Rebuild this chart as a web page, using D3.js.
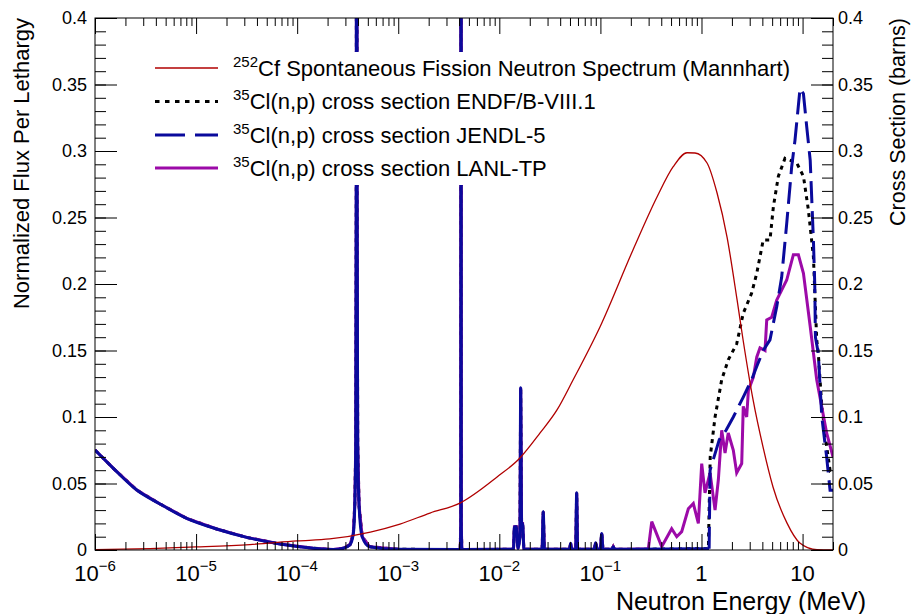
<!DOCTYPE html>
<html>
<head>
<meta charset="utf-8">
<script src="https://cdn.jsdelivr.net/npm/d3@7"></script>
<style>
  body { margin: 0; background: #fff; }
  svg { font-family: "Liberation Sans", Arial, sans-serif; }
</style>
</head>
<body>
<div id="chart"></div>
<script>
// 252Cf spectrum (Mannhart), flux per lethargy
const cfEnergy = [1e-6, 3.5e-6, 1e-5, 3.4e-5, 1e-4, 2.1e-4, 5.3e-4, 1.04e-3, 2.06e-3, 4.08e-3, 9.5e-3, 0.016, 0.0253, 0.0372, 0.0536, 0.099, 0.21, 0.363, 0.523, 0.719, 0.863, 1.135, 1.426, 1.79, 2.25, 2.58, 3.24, 4.06, 5.1, 7.0, 9.4, 13.9, 20];
const cfFlux = [0.0002, 0.0011, 0.0023, 0.0041, 0.0068, 0.0083, 0.0135, 0.0195, 0.0278, 0.0353, 0.0549, 0.0692, 0.088, 0.1053, 0.1278, 0.1677, 0.2256, 0.2654, 0.288, 0.2987, 0.2985, 0.291, 0.2684, 0.2353, 0.188, 0.1579, 0.1128, 0.0775, 0.0474, 0.0204, 0.0053, 0.0002, 0.0];

// резонансная область - все три библиотеки совпадают
const lowEnergy = [1e-6, 1.52e-6, 2.59e-6, 4.4e-6, 8.07e-6, 1.6e-5, 3.17e-5, 6.77e-5, 1.44e-4, 2.28e-4, 2.86e-4, 3.33e-4, 3.59e-4, 3.72e-4, 3.80e-4, 3.85e-4, 3.88e-4, 3.91e-4, 3.97e-4, 4.10e-4, 4.4e-4, 5.2e-4, 1.0e-3,
  4.10e-3, 4.16e-3, 4.18e-3, 4.20e-3, 4.26e-3,
  0.0138, 0.0141, 0.0147, 0.0153, 0.0160, 0.01626, 0.0166, 0.0170, 0.0175,
  0.0265, 0.0272, 0.0279, 0.0495, 0.0508, 0.0520, 0.0570, 0.0582, 0.0595,
  0.087, 0.0897, 0.093, 0.100, 0.103, 0.106, 0.130, 0.134, 0.138];
const lowXs = [0.0752, 0.0614, 0.0451, 0.0346, 0.0238, 0.0158, 0.0095, 0.0045, 0.0013, 0.0003, 0.0013, 0.004, 0.012, 0.035, 0.08, 0.3, 1.5, 0.3, 0.08, 0.033, 0.01, 0.0025, 0.0005,
  0.0004, 0.02, 1.2, 0.02, 0.0004,
  0.0005, 0.0175, 0.0175, 0.001, 0.01, 0.122, 0.02, 0.02, 0.0005,
  0.0005, 0.029, 0.0005, 0.0005, 0.005, 0.0005, 0.0005, 0.043, 0.0005,
  0.0005, 0.0055, 0.0005, 0.0005, 0.0125, 0.0005, 0.0005, 0.0025, 0.0005];

const endfEnergy = [0.2, 1.17, 1.19, 1.22, 1.362, 1.585, 1.84, 2.23, 2.59, 3.13, 3.52, 4.08, 4.76, 5.14, 5.76, 6.70, 8.75, 10.2, 11.4, 12.8, 13.8, 14.3, 15.5, 17.3, 18.7, 20];
const endfXs = [0.0005, 0.001, 0.03, 0.07, 0.1, 0.128, 0.143, 0.155, 0.178, 0.193, 0.208, 0.233, 0.233, 0.258, 0.281, 0.2945, 0.291, 0.281, 0.256, 0.2205, 0.158, 0.148, 0.108, 0.078, 0.06, 0.062];

const jendlEnergy = [0.2, 1.19, 1.216, 1.50, 1.75, 2.065, 2.59, 3.13, 3.52, 4.08, 4.76, 5.55, 6.21, 6.97, 7.80, 8.41, 9.44, 10.2, 11.0, 11.9, 12.8, 13.2, 13.4, 14.3, 15.5, 17.3, 18.7, 20];
const jendlXs = [0.0005, 0.001, 0.06, 0.083, 0.09, 0.1, 0.115, 0.128, 0.138, 0.15, 0.158, 0.183, 0.205, 0.2456, 0.288, 0.308, 0.347, 0.343, 0.318, 0.293, 0.233, 0.2, 0.16, 0.148, 0.1, 0.07, 0.045, 0.045];

const lanlEnergy = [0.2, 0.298, 0.322, 0.404, 0.507, 0.569, 0.637, 0.741, 0.830, 0.931, 1.005, 1.084, 1.216, 1.362, 1.469, 1.585, 1.710, 1.84, 2.065, 2.23, 2.50, 2.59, 2.80, 2.91, 3.26, 3.52, 3.79, 4.25, 4.42, 4.95, 5.55, 6.97, 8.11, 9.09, 10.2, 11.9, 13.8, 17.3, 20];
const lanlXs = [0.0005, 0.001, 0.0213, 0.0025, 0.016, 0.01, 0.0138, 0.031, 0.035, 0.02, 0.065, 0.043, 0.058, 0.03, 0.053, 0.09, 0.073, 0.088, 0.075, 0.058, 0.065, 0.108, 0.10, 0.12, 0.13, 0.145, 0.152, 0.15, 0.173, 0.175, 0.188, 0.203, 0.222, 0.222, 0.208, 0.168, 0.128, 0.088, 0.07];

const xMajorTicks = [1e-6, 1e-5, 1e-4, 1e-3, 1e-2, 1e-1, 1, 10];
const xTickBase = ["10", "10", "10", "10", "10", "10", "1", "10"];
const xTickExp = ["\u22126", "\u22125", "\u22124", "\u22123", "\u22122", "\u22121", "", ""];
const yTicks = [0, 0.05, 0.1, 0.15, 0.2, 0.25, 0.3, 0.35, 0.4];
const yTickLabels = ["0", "0.05", "0.1", "0.15", "0.2", "0.25", "0.3", "0.35", "0.4"];

const legendLabels = [
  { sup: "252", text: "Cf Spontaneous Fission Neutron Spectrum (Mannhart)" },
  { sup: "35", text: "Cl(n,p) cross section ENDF/B-VIII.1" },
  { sup: "35", text: "Cl(n,p) cross section JENDL-5" },
  { sup: "35", text: "Cl(n,p) cross section LANL-TP" },
];

// Размеры
const W = 914, H = 614;
const padLeft = 95, padRight = 833, padTop = 18, padBottom = 550;

const svg = d3.select("#chart").append("svg")
  .attr("width", W).attr("height", H)
  .attr("viewBox", `0 0 ${W} ${H}`);

const x = d3.scaleLog().domain([1e-6, 20]).range([padLeft, padRight]);
const yFlux = d3.scaleLinear().domain([0, 0.4]).range([padBottom, padTop]);
const yXs = d3.scaleLinear().domain([0, 0.4]).range([padBottom, padTop]);

svg.append("defs").append("clipPath").attr("id", "plot-clip")
  .append("rect").attr("x", padLeft).attr("y", padTop)
  .attr("width", padRight - padLeft).attr("height", padBottom - padTop);

const toPoints = (es, vs) => es.map((e, i) => ({ e: e, v: vs[i] }));

const cfPts = toPoints(cfEnergy, cfFlux);
const lowPts = toPoints(lowEnergy, lowXs);
const endfPts = lowPts.concat(toPoints(endfEnergy, endfXs));
const jendlPts = lowPts.concat(toPoints(jendlEnergy, jendlXs));
const lanlPts = lowPts.concat(toPoints(lanlEnergy, lanlXs));

const fluxLine = d3.line().x((d) => x(d.e)).y((d) => yFlux(d.v)).curve(d3.curveMonotoneX);
const xsSmooth = d3.line().x((d) => x(d.e)).y((d) => yXs(d.v)).curve(d3.curveMonotoneX);
const xsLine = d3.line().x((d) => x(d.e)).y((d) => yXs(d.v));

const plot = svg.append("g").attr("clip-path", "url(#plot-clip)");

plot.append("path").datum(endfPts)
  .attr("fill", "none").attr("stroke", "#000").attr("stroke-width", 3)
  .attr("stroke-dasharray", "4,4.5")
  .attr("d", xsLine);

plot.append("path").datum(lanlPts)
  .attr("fill", "none").attr("stroke", "#9c0aa8").attr("stroke-width", 3)
  .attr("d", xsLine);

// JENDL: в плотной области ROOT рисует штрихи сплошняком
plot.append("path").datum(jendlPts.filter((d) => d.e <= 1.19))
  .attr("fill", "none").attr("stroke", "#0a0a9c").attr("stroke-width", 3)
  .attr("d", xsSmooth);
plot.append("path").datum(jendlPts.filter((d) => d.e >= 1.19))
  .attr("fill", "none").attr("stroke", "#0a0a9c").attr("stroke-width", 3)
  .attr("stroke-dasharray", "22,8")
  .attr("d", xsLine);

// Легенда (белая подложка закрывает резонансы)
const legend = svg.append("g");
legend.append("rect").attr("x", 148).attr("y", 52)
  .attr("width", 620).attr("height", 133).attr("fill", "#fff");

// Спектр Cf рисуется поверх подложки легенды
svg.append("g").attr("clip-path", "url(#plot-clip)")
  .append("path").datum(cfPts)
  .attr("fill", "none").attr("stroke", "#b00000").attr("stroke-width", 1.3)
  .attr("d", fluxLine);

// Рамка
svg.append("rect").attr("x", padLeft).attr("y", padTop)
  .attr("width", padRight - padLeft).attr("height", padBottom - padTop)
  .attr("fill", "none").attr("stroke", "#000").attr("stroke-width", 1);

// Оси
const xMinor = x.ticks().filter((t) => xMajorTicks.indexOf(t) < 0);
const yMinor = d3.range(0, 41).map((i) => i / 100);

function styleAxis(g) {
  g.select(".domain").remove();
  g.selectAll(".tick line").attr("stroke", "#000");
  g.selectAll("text").remove();
}

svg.append("g").attr("transform", `translate(0,${padBottom})`)
  .call(d3.axisBottom(x).tickValues(xMajorTicks).tickSize(-16)).call(styleAxis);
svg.append("g").attr("transform", `translate(0,${padBottom})`)
  .call(d3.axisBottom(x).tickValues(xMinor).tickSize(-8)).call(styleAxis);
svg.append("g").attr("transform", `translate(0,${padTop})`)
  .call(d3.axisTop(x).tickValues(xMajorTicks).tickSize(-16)).call(styleAxis);
svg.append("g").attr("transform", `translate(0,${padTop})`)
  .call(d3.axisTop(x).tickValues(xMinor).tickSize(-8)).call(styleAxis);

svg.append("g").attr("transform", `translate(${padLeft},0)`)
  .call(d3.axisLeft(yFlux).tickValues(yTicks).tickSize(-22)).call(styleAxis);
svg.append("g").attr("transform", `translate(${padLeft},0)`)
  .call(d3.axisLeft(yFlux).tickValues(yMinor).tickSize(-11)).call(styleAxis);
svg.append("g").attr("transform", `translate(${padRight},0)`)
  .call(d3.axisRight(yXs).tickValues(yTicks).tickSize(-22)).call(styleAxis);
svg.append("g").attr("transform", `translate(${padRight},0)`)
  .call(d3.axisRight(yXs).tickValues(yMinor).tickSize(-11)).call(styleAxis);

// Подписи делений
const xLabels = svg.append("g").attr("font-size", 22).attr("fill", "#000");
xMajorTicks.forEach((t, i) => {
  const txt = xLabels.append("text")
    .attr("x", x(t)).attr("y", 581)
    .attr("text-anchor", "middle");
  txt.append("tspan").text(xTickBase[i]);
  if (xTickExp[i]) {
    txt.append("tspan").attr("dy", -10).attr("font-size", 15).text(xTickExp[i]);
  }
});

svg.append("g").attr("font-size", 18)
  .selectAll("text").data(yTicks).join("text")
  .attr("x", padLeft - 8).attr("y", (d) => yFlux(d)).attr("dy", "0.35em")
  .attr("text-anchor", "end")
  .text((d, i) => yTickLabels[i]);

svg.append("g").attr("font-size", 18)
  .selectAll("text").data(yTicks).join("text")
  .attr("x", padRight + 5).attr("y", (d) => yXs(d)).attr("dy", "0.35em")
  .attr("text-anchor", "start")
  .text((d, i) => yTickLabels[i]);

// Названия осей
svg.append("text").attr("x", 866).attr("y", 610)
  .attr("text-anchor", "end").attr("font-size", 25)
  .text("Neutron Energy (MeV)");

svg.append("text")
  .attr("transform", `translate(29,${padTop}) rotate(-90)`)
  .attr("text-anchor", "end").attr("font-size", 22)
  .text("Normalized Flux Per Lethargy");

svg.append("text")
  .attr("transform", `translate(905,${padTop}) rotate(-90)`)
  .attr("text-anchor", "end").attr("font-size", 21.5)
  .text("Cross Section (barns)");

// Подписи легенды
const legendStyles = [
  { color: "#b00000", width: 1.3, dash: null },
  { color: "#000", width: 3, dash: "4.5,5.5" },
  { color: "#0a0a9c", width: 3, dash: "30,10" },
  { color: "#9c0aa8", width: 3, dash: null },
];
const rowY = [68, 101.5, 135, 168];

legendLabels.forEach((item, i) => {
  const st = legendStyles[i];
  legend.append("line")
    .attr("x1", 155).attr("x2", 218)
    .attr("y1", rowY[i]).attr("y2", rowY[i])
    .attr("stroke", st.color).attr("stroke-width", st.width)
    .attr("stroke-dasharray", st.dash);
  const txt = svg.append("text")
    .attr("x", 233).attr("y", rowY[i] + 7.5)
    .attr("font-size", 22);
  txt.append("tspan").attr("dy", -9).attr("font-size", 15).text(item.sup);
  txt.append("tspan").attr("dy", 9).text(item.text);
});
</script>
</body>
</html>
